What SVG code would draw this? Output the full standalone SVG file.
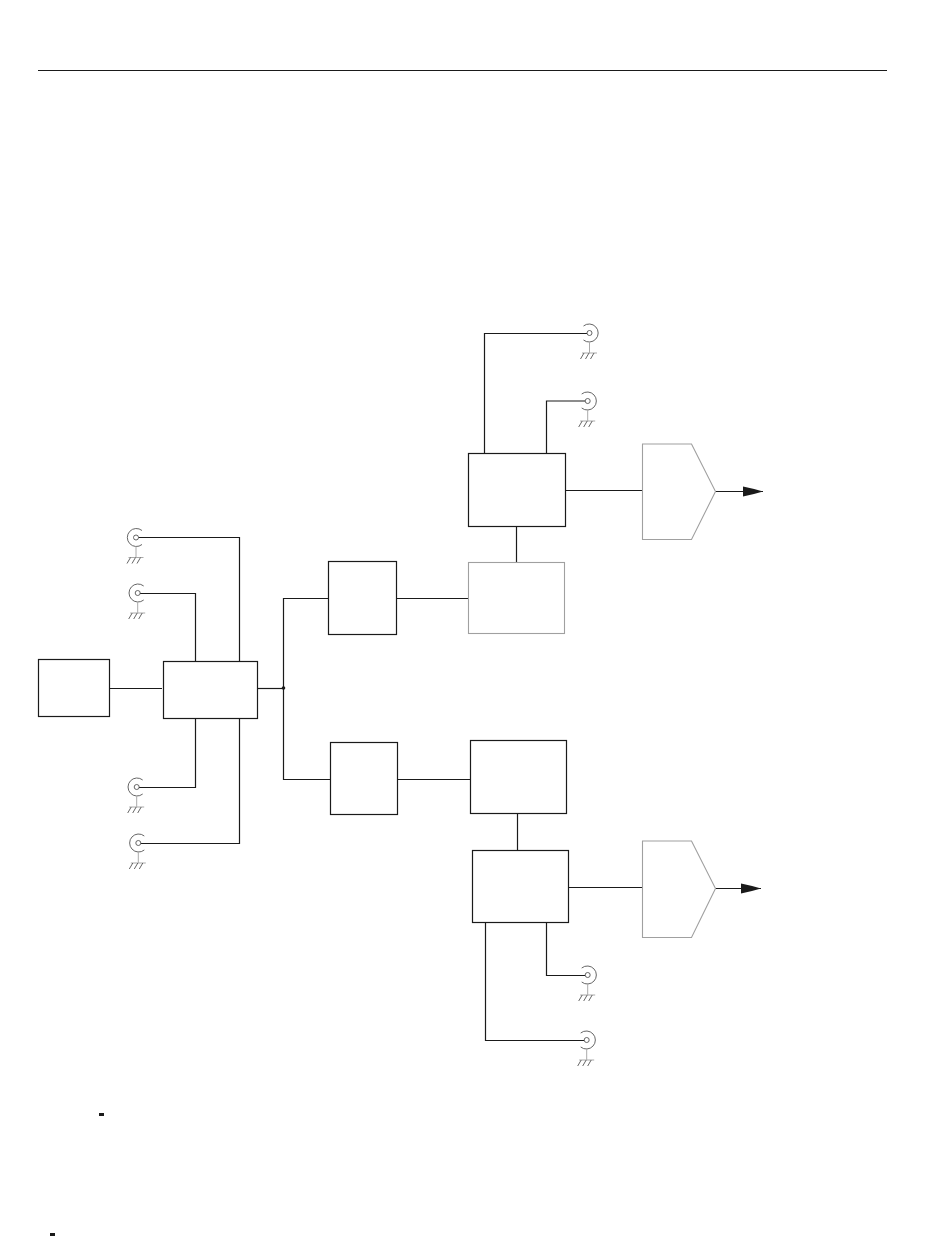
<svg xmlns="http://www.w3.org/2000/svg" width="950" height="1254" viewBox="0 0 950 1254">
<style>
.w{fill:none;stroke:#1a1a1a;stroke-width:1.2}
.b{fill:#fff;stroke:#1a1a1a;stroke-width:1.2}
.g{fill:#fff;stroke:#a0a0a0;stroke-width:1.1}
.c{fill:none;stroke:#555;stroke-width:.9}
.s{fill:none;stroke:#aaa;stroke-width:1}
</style>
<defs>
<g id="gr"><path class="s" d="M0 9V20M-7.500 20H7.500"/><path class="c" d="M-5.500 20L-9 26M-.5 20L-4 26M4.500 20L1 26"/></g>
<g id="jl"><path class="c" d="M6-7A9 9 0 1 0 6 7"/><circle class="c" r="2.500"/><use href="#gr"/></g>
<g id="jr"><path class="c" d="M-6-7A9 9 0 1 1-6 7"/><circle class="c" r="2.500"/><use href="#gr"/></g>
<marker id="ah" markerUnits="userSpaceOnUse" markerWidth="21" markerHeight="12" refX="20" refY="5.500" orient="auto"><path d="M0 .5Q10 2.500 20 5.500Q10 8.500 0 10.500Z" fill="#1a1a1a"/></marker>
</defs>
<path id="rule" class="w" d="M38 70.500H887"/>
<g id="connectors">
<path class="w" d="M484.500 453V333.500H587"/>
<path class="w" d="M546.500 453V401H585"/>
<path class="w" d="M565 490.500H642"/>
<path class="w" d="M516.500 526V562"/>
<path class="w" d="M396 598.500H468"/>
<path class="w" d="M328 598.500H283.500V779.500H330"/>
<path class="w" d="M257 688.500H283.500"/>
<path class="w" d="M109 688.500H162"/>
<path class="w" d="M239.500 661V537.500H138.500"/>
<path class="w" d="M195.500 661V593.500H140"/>
<path class="w" d="M195.500 718V787.500H139"/>
<path class="w" d="M239.500 718V843.500H141"/>
<path class="w" d="M398 779.500H470"/>
<path class="w" d="M517.500 813V850"/>
<path class="w" d="M568 887.500H642"/>
<path class="w" d="M546.500 922V975.500H585"/>
<path class="w" d="M485.500 922V1040.500H584"/>
<path class="w" d="M715 491.500H763" marker-end="url(#ah)"/>
<path class="w" d="M715 888.500H761" marker-end="url(#ah)"/>
<circle cx="283.500" cy="688" r="1.800" fill="#1a1a1a"/>
</g>
<g id="node-source"><rect class="b" x="38.500" y="659.500" width="71" height="57"/></g>
<g id="node-splitter"><rect class="b" x="163.500" y="661.500" width="94" height="57"/></g>
<g id="node-upper-a"><rect class="b" x="328.500" y="561.500" width="68" height="73"/></g>
<g id="node-upper-b"><rect class="g" x="468.500" y="562.500" width="96" height="71"/></g>
<g id="node-upper-c"><rect class="b" x="468.500" y="453.500" width="97" height="73"/></g>
<g id="node-lower-a"><rect class="b" x="330.500" y="742.500" width="67" height="72"/></g>
<g id="node-lower-b"><rect class="b" x="470.500" y="740.500" width="96" height="73"/></g>
<g id="node-lower-c"><rect class="b" x="472.500" y="850.500" width="96" height="72"/></g>
<g id="node-amp-upper"><path class="g" d="M642.500 444H691.500L715.500 491.500L691.500 539.500H642.500Z"/></g>
<g id="node-amp-lower"><path class="g" d="M642.500 841H691.500L715.500 888.500L691.500 937.500H642.500Z"/></g>
<g id="jack-1"><use href="#jr" x="589.500" y="333"/></g>
<g id="jack-2"><use href="#jr" x="587.700" y="401"/></g>
<g id="jack-3"><use href="#jl" x="136" y="537.500"/></g>
<g id="jack-4"><use href="#jl" x="137.700" y="593"/></g>
<g id="jack-5"><use href="#jl" x="136.700" y="787"/></g>
<g id="jack-6"><use href="#jl" x="138.300" y="843"/></g>
<g id="jack-7"><use href="#jr" x="587.700" y="975"/></g>
<g id="jack-8"><use href="#jr" x="586.700" y="1040"/></g>
<rect x="99" y="1113" width="5" height="3" fill="#1a1a1a"/>
<rect x="50" y="1233" width="5" height="3" fill="#1a1a1a"/>
</svg>
